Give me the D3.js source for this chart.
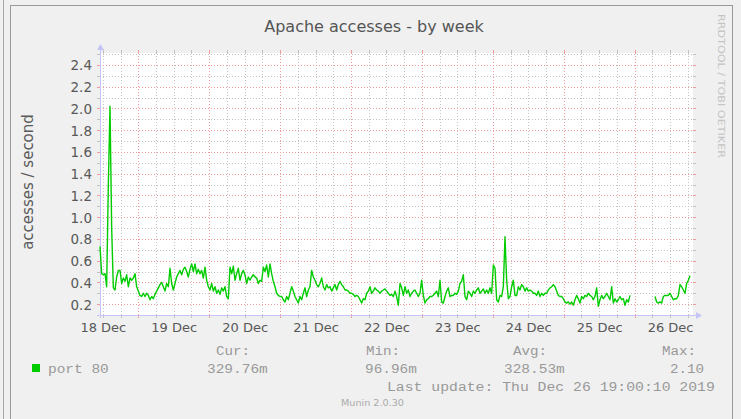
<!DOCTYPE html>
<html>
<head>
<meta charset="utf-8">
<script src="https://cdn.jsdelivr.net/npm/d3@7"></script>
<style>
  html, body { margin: 0; padding: 0; background: #f0f0f0; }
  svg { display: block; }
</style>
</head>
<body>
<div id="chart"></div>
<script>
// chart text
const title = "Apache accesses - by week";
const yTitle = "accesses / second";
const watermark = "RRDTOOL / TOBI OETIKER";
const footer = "Munin 2.0.30";
const seriesName = "port 80";
const seriesColor = "#00cc00";
const legendHeads = ["Cur:", "Min:", "Avg:", "Max:"];
const legendValues = ["329.76m", "96.96m", "328.53m", "2.10"];
const lastUpdate = "Last update: Thu Dec 26 19:00:10 2019";

// time range shown + sample spacing
const startTime = Date.UTC(2019, 11, 18, 11, 2);
const endTime = Date.UTC(2019, 11, 26, 19, 46);
const stepMinutes = 33.85;

// y grid
const yMajor = [0.2, 0.4, 0.6, 0.8, 1.0, 1.2, 1.4, 1.6, 1.8, 2.0, 2.2, 2.4];
const yMinor = [0.3, 0.5, 0.7, 0.9, 1.1, 1.3, 1.5, 1.7, 1.9, 2.1, 2.3, 2.5];

// accesses / second, one value per step (null = no data)
const values = [
  0.73, 0.48, 0.47, 0.48, 0.36, 1.30, 2.02, 0.90, 0.35, 0.33,
  0.45, 0.51, 0.51, 0.39, 0.44, 0.41, 0.47, 0.36, 0.44, 0.42,
  0.44, 0.48, 0.36, 0.32, 0.28, 0.27, 0.30, 0.27, 0.30, 0.28,
  0.24, 0.27, 0.25, 0.29, 0.32, 0.35, 0.38, 0.40, 0.36, 0.32,
  0.39, 0.36, 0.53, 0.39, 0.33, 0.39, 0.45, 0.48, 0.51, 0.47,
  0.52, 0.54, 0.50, 0.45, 0.52, 0.57, 0.50, 0.57, 0.48, 0.52,
  0.48, 0.51, 0.44, 0.54, 0.42, 0.36, 0.33, 0.39, 0.32, 0.36,
  0.30, 0.33, 0.29, 0.35, 0.32, 0.36, 0.27, 0.25, 0.54, 0.48,
  0.55, 0.42, 0.48, 0.53, 0.42, 0.48, 0.51, 0.47, 0.39, 0.45,
  0.42, 0.45, 0.47, 0.45, 0.44, 0.39, 0.42, 0.41, 0.54, 0.50,
  0.56, 0.45, 0.57, 0.48, 0.41, 0.36, 0.30, 0.28, 0.27, 0.27,
  0.24, 0.22, 0.27, 0.24, 0.30, 0.36, 0.32, 0.27, 0.24, 0.21,
  0.27, 0.24, 0.30, 0.35, 0.27, 0.33, 0.36, 0.51, 0.45, 0.42,
  0.38, 0.36, 0.39, 0.44, 0.36, 0.33, 0.38, 0.35, 0.36, 0.32,
  0.35, 0.38, 0.33, 0.38, 0.41, 0.38, 0.36, 0.33, 0.33, 0.32,
  0.30, 0.30, 0.29, 0.27, 0.28, 0.27, 0.24, 0.21, 0.25, 0.24,
  0.30, 0.32,
  0.36, 0.30, 0.32, 0.35, 0.33, 0.32, 0.30, 0.32, 0.33, 0.34,
  0.32, 0.30, 0.28, 0.29, 0.27, 0.32, 0.27, 0.19, 0.39, 0.35,
  0.28, 0.36, 0.30, 0.33, 0.27, 0.30, 0.32, 0.33, 0.30, 0.27,
  0.30, 0.42, 0.28, 0.21, 0.24, 0.25, 0.27, 0.27, 0.28, 0.30,
  0.32, 0.27, 0.42, 0.22, 0.21, 0.27, 0.32, 0.35, 0.27, 0.28,
  0.28, 0.30, 0.29, 0.32, 0.39, 0.41, 0.47, 0.27, 0.24, 0.32,
  0.30, 0.27, 0.32, 0.30, 0.33, 0.35, 0.30, 0.32, 0.34, 0.30,
  0.33, 0.30, 0.35, 0.30, 0.56, 0.53, 0.24, 0.22, 0.28, 0.27,
  0.36, 0.82, 0.42, 0.25, 0.27, 0.36, 0.42, 0.28, 0.28, 0.36,
  0.33, 0.38, 0.36, 0.32, 0.35, 0.32, 0.33, 0.32, 0.30, 0.30,
  0.28, 0.32, 0.27, 0.30, 0.28, 0.30, 0.30, 0.33, 0.35, 0.36,
  0.38, 0.36, 0.32, 0.28, 0.27, 0.27, 0.25, 0.22, 0.21, 0.22,
  0.20, 0.22, 0.19, 0.24, 0.28, 0.25, 0.21, 0.27, 0.25, 0.28,
  0.27, 0.30, 0.28, 0.27, 0.24, 0.27, 0.35, 0.18, 0.24, 0.28,
  0.25, 0.27, 0.30, 0.27, 0.24, 0.36, 0.21, 0.25, 0.22, 0.24,
  0.27, 0.24, 0.25, 0.19, 0.24, 0.22, 0.28, null, null, null,
  null, null, null, null, null, null, null, null, null, null,
  null, 0.27, 0.22, 0.21, 0.22, 0.21, 0.27, 0.28, 0.28, 0.28,
  0.30, 0.27, 0.24, 0.25, 0.25, 0.28, 0.38, 0.36, 0.33, 0.30,
  0.39, 0.42, 0.46
];

const W = 741, H = 419;
const pLeft = 100, pRight = 693, pTop = 53, pBottom = 315;
const sans = "'DejaVu Sans', sans-serif";
const mono = "'Liberation Mono', 'DejaVu Sans Mono', monospace";

const svg = d3.select("#chart").append("svg")
  .attr("width", W)
  .attr("height", H);

// page / frame
svg.append("rect").attr("width", W).attr("height", H).attr("fill", "#f0f0f0");
svg.append("line")
  .attr("x1", 3.5).attr("x2", 3.5).attr("y1", 0).attr("y2", H)
  .attr("stroke", "#a8a8a8");
svg.append("rect")
  .attr("x", 10.5).attr("y", 5.5).attr("width", 722).attr("height", H)
  .attr("fill", "#f0f0f0").attr("stroke", "#9a9a9a");

const x = d3.scaleUtc().domain([startTime, endTime]).range([pLeft, pRight]);
const y = d3.scaleLinear().domain([0.1, 2.5]).range([pBottom, 54.1]);

// canvas
svg.append("rect")
  .attr("x", pLeft).attr("y", pTop)
  .attr("width", pRight - pLeft).attr("height", pBottom - pTop)
  .attr("fill", "#ffffff");

const px = v => Math.round(v) + 0.5;
const grid = svg.append("g").attr("shape-rendering", "crispEdges");
const minorColor = "#c2c2c2", majorColor = "#ef9c9c";

// vertical grid: 6h minor (grey), day major (red)
const hours = d3.utcHour.every(6).range(new Date(startTime), new Date(endTime));
const vDraw = (data, color) => {
  grid.selectAll(null).data(data).enter().append("line")
    .attr("x1", d => px(x(d))).attr("x2", d => px(x(d)))
    .attr("y1", pTop).attr("y2", pBottom)
    .attr("stroke", color).attr("stroke-dasharray", "1,2");
  // little ticks beyond the canvas
  grid.selectAll(null).data(data).enter().append("path")
    .attr("d", d => `M${px(x(d))},${pTop - 3}V${pTop}M${px(x(d))},${pBottom}V${pBottom + 3}`)
    .attr("stroke", color);
};
vDraw(hours.filter(d => d.getUTCHours() != 0), minorColor);
vDraw(hours.filter(d => d.getUTCHours() == 0), majorColor);

// horizontal grid
const hDraw = (data, color) => {
  grid.selectAll(null).data(data).enter().append("line")
    .attr("x1", pLeft).attr("x2", pRight)
    .attr("y1", d => px(y(d))).attr("y2", d => px(y(d)))
    .attr("stroke", color).attr("stroke-dasharray", "1,2");
  grid.selectAll(null).data(data).enter().append("path")
    .attr("d", d => `M${pLeft - 3},${px(y(d))}H${pLeft}M${pRight},${px(y(d))}H${pRight + 3}`)
    .attr("stroke", color);
};
hDraw(yMinor, minorColor);
hDraw(yMajor, majorColor);

// axes (light blue with arrows)
const axisColor = "#c4c4f6";
svg.append("path")
  .attr("d", `M${pLeft - 3},${pBottom + 0.5}H${pRight + 4}`)
  .attr("stroke", axisColor).attr("stroke-width", 1);
svg.append("path")
  .attr("d", `M${pRight + 3},${pBottom - 3}L${pRight + 9},${pBottom + 0.5}L${pRight + 3},${pBottom + 4}Z`)
  .attr("fill", axisColor);
svg.append("path")
  .attr("d", `M${pLeft + 0.5},${pBottom + 3}V${pTop - 4}`)
  .attr("stroke", axisColor).attr("stroke-width", 1);
svg.append("path")
  .attr("d", `M${pLeft - 3},${pTop - 3}L${pLeft + 0.5},${pTop - 9}L${pLeft + 4},${pTop - 3}Z`)
  .attr("fill", axisColor);

// y labels
const yAxis = svg.append("g")
  .attr("transform", `translate(${pLeft - 8},0)`)
  .call(d3.axisLeft(y).tickValues(yMajor).tickSize(0).tickPadding(0).tickFormat(d3.format(".1f")));
yAxis.select(".domain").remove();
yAxis.selectAll("text")
  .attr("font-family", sans).attr("font-size", 13.5).attr("fill", "#585858")
  .attr("dy", "0.36em");

// x labels at noon of every day
const noons = d3.utcDay.range(d3.utcDay.floor(new Date(startTime)), new Date(endTime))
  .map(d => d3.utcHour.offset(d, 12));
const xAxis = svg.append("g")
  .attr("transform", `translate(0,${pBottom})`)
  .call(d3.axisBottom(x).tickValues(noons).tickSize(0).tickPadding(0).tickFormat(d3.utcFormat("%d %b")));
xAxis.select(".domain").remove();
xAxis.selectAll("text")
  .attr("font-family", sans).attr("font-size", 13).attr("fill", "#585858")
  .attr("dy", 0).attr("y", 17);

// data line
const pts = values.map((v, i) => ({ t: startTime + i * stepMinutes * 60000, v: v }));
const line = d3.line()
  .defined(d => d.v != null)
  .x(d => x(d.t))
  .y(d => y(d.v));
svg.append("path")
  .datum(pts)
  .attr("d", line)
  .attr("fill", "none")
  .attr("stroke", seriesColor)
  .attr("stroke-width", 1.4)
  .attr("stroke-linejoin", "round");

// title
svg.append("text")
  .attr("x", 374).attr("y", 32)
  .attr("text-anchor", "middle")
  .attr("font-family", sans).attr("font-size", 16).attr("fill", "#555")
  .text(title);

// y title
svg.append("text")
  .attr("transform", "translate(33,182) rotate(-90)")
  .attr("text-anchor", "middle")
  .attr("font-family", sans).attr("font-size", 15).attr("fill", "#5a5a5a")
  .text(yTitle);

// watermark
svg.append("text")
  .attr("transform", "translate(718,14) rotate(90)")
  .attr("font-family", sans).attr("font-size", 8.5).attr("fill", "#c4c4c4")
  .attr("textLength", 144).attr("lengthAdjust", "spacingAndGlyphs")
  .text(watermark);

// legend
const charW = 8.9;
const monoText = (str, xPos, yPos) => svg.append("text")
  .attr("x", xPos).attr("y", yPos)
  .attr("font-family", mono).attr("font-size", 12.5).attr("fill", "#999")
  .attr("textLength", str.length * charW - 1.5).attr("lengthAdjust", "spacingAndGlyphs")
  .text(str);

svg.append("rect")
  .attr("x", 32).attr("y", 364).attr("width", 8).attr("height", 8)
  .attr("fill", seriesColor);
monoText(seriesName, 48, 373);

const headX = [216, 366, 513, 662];
const valX = [207, 365, 504, 670];
legendHeads.forEach((h, i) => monoText(h, headX[i], 355));
legendValues.forEach((v, i) => monoText(v, valX[i], 373));
monoText(lastUpdate, 387, 391);

svg.append("text")
  .attr("x", 341).attr("y", 406)
  .attr("font-family", sans).attr("font-size", 8).attr("fill", "#aaa")
  .attr("textLength", 63).attr("lengthAdjust", "spacingAndGlyphs")
  .text(footer);
</script>
</body>
</html>
